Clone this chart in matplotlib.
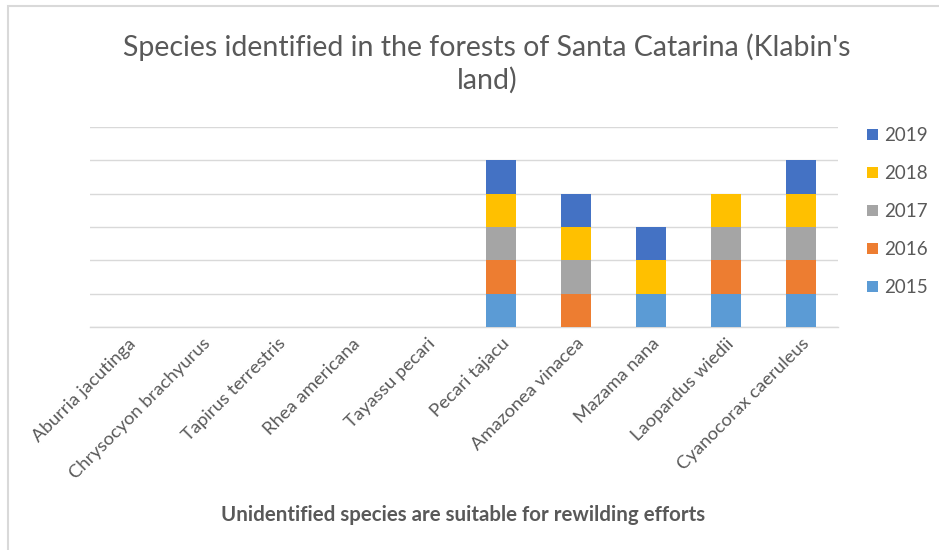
import matplotlib
matplotlib.use("Agg")
import matplotlib.pyplot as plt
from matplotlib.patches import Patch, Rectangle
import numpy as np

categories = ["Aburria jacutinga", "Chrysocyon brachyurus", "Tapirus terrestris",
              "Rhea americana", "Tayassu pecari", "Pecari tajacu", "Amazonea vinacea",
              "Mazama nana", "Laopardus wiedii", "Cyanocorax caeruleus"]
years = ["2015", "2016", "2017", "2018", "2019"]
v2015 = [0, 0, 0, 0, 0, 1, 0, 1, 1, 1]
v2016 = [0, 0, 0, 0, 0, 1, 1, 0, 1, 1]
v2017 = [0, 0, 0, 0, 0, 1, 1, 0, 1, 1]
v2018 = [0, 0, 0, 0, 0, 1, 1, 1, 1, 1]
v2019 = [0, 0, 0, 0, 0, 1, 1, 1, 0, 1]
series = [v2015, v2016, v2017, v2018, v2019]
colors = ["#5B9BD5", "#ED7D31", "#A5A5A5", "#FFC000", "#4472C4"]

plt.rcParams['font.family'] = ['Lato', 'DejaVu Sans']
txt = "#595959"

fig = plt.figure(figsize=(9.39, 5.5), dpi=100)
fig.patches.append(Rectangle((8/939, -0.1), 1.2, 1 - 6/550 + 0.1, transform=fig.transFigure,
                             fill=False, edgecolor="#d9d9d9", linewidth=1.5))
ax = fig.add_axes([90/939, 1 - 327/550, 748/939, 200/550])

x = np.arange(len(categories))
bottom = np.zeros(len(categories))
for vals, c, y in zip(series, colors, years):
    ax.bar(x, vals, 0.4, bottom=bottom, color=c, label=y, zorder=3, linewidth=0)
    bottom += np.array(vals)

ax.set_xlim(-0.5, len(categories) - 0.5)
ax.set_ylim(0, 6)
ax.set_yticks(np.arange(0, 7))
ax.yaxis.grid(True, color="#d9d9d9", linewidth=1)
ax.tick_params(axis='y', left=False, labelleft=False)
ax.tick_params(axis='x', length=0, pad=6)
for s in ["top", "right", "left"]:
    ax.spines[s].set_visible(False)
ax.spines["bottom"].set_color("#d9d9d9")
ax.spines["bottom"].set_linewidth(1)
ax.set_xticks(x)
ax.set_xticklabels(categories, rotation=45, ha='right', rotation_mode='anchor',
                   fontsize=13.3, color=txt)

fig.text(487/939, 1 - 47/550, "Species identified in the forests of Santa Catarina (Klabin's",
         ha='center', va='center', fontsize=20.5, color=txt)
fig.text(487/939, 1 - 80/550, "land)", ha='center', va='center', fontsize=20.5, color=txt)
fig.text(463/939, 1 - 515/550, "Unidentified species are suitable for rewilding efforts",
         ha='center', va='center', fontsize=14.8, fontweight='bold', color=txt)

handles = [Patch(facecolor=c, label=y) for c, y in zip(colors, years)][::-1]
fig.legend(handles=handles, loc='upper left', bbox_to_anchor=(858/939, 1 - 118/550),
           frameon=False, fontsize=13.5, labelcolor=txt, handlelength=0.55, handleheight=0.55,
           handletextpad=0.35, labelspacing=1.12, borderpad=0)

fig.savefig("out.png", dpi=100)
